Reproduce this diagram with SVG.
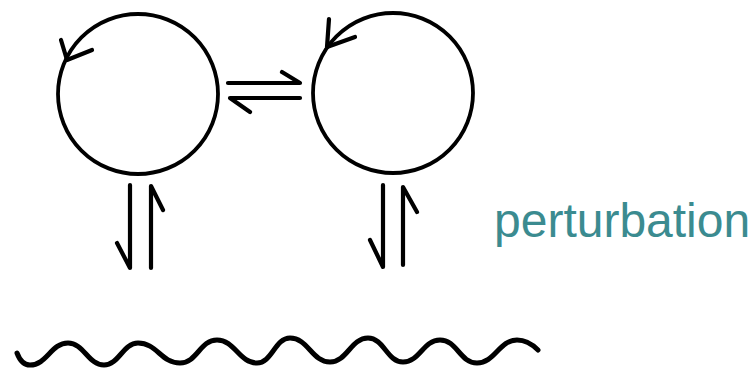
<svg xmlns="http://www.w3.org/2000/svg" width="753" height="371" viewBox="0 0 753 371">
  <style>
    .ink { fill: none; stroke: #000; stroke-linecap: round; stroke-linejoin: round; }
    .circ { stroke-width: 3.8; }
    .arr { stroke-width: 4.2; }
    .wave { stroke-width: 5; }
    .lbl { font-family: "Liberation Sans", Arial, sans-serif; font-size: 48px; fill: #3b8b90; }
  </style>
  <rect width="753" height="371" fill="#fff"/>
  <g id="state-left">
    <circle class="ink circ" cx="138" cy="94" r="80"/>
    <path class="ink arr" d="M61,40 L67,60 L92,50"/>
  </g>
  <g id="state-right">
    <circle class="ink circ" cx="393" cy="93" r="80"/>
    <path class="ink arr" d="M329,19 L327,47 L355,37"/>
  </g>
  <g id="bath">
    <path class="ink wave" d="M17,353 C20,361 24,365 30,365 C47,365 51,343 68,343 C84,343 88,365 104,365 C119,365 123,343 138,343 C157,343 161,363 180,363 C197,363 200,340 217,340 C235,340 239,363 257,363 C272,363 275,338 290,338 C308,338 312,362 330,362 C347,362 351,338 368,338 C384,338 387,362 403,362 C420,362 423,340 440,340 C457,340 460,363 477,363 C495,363 499,340 517,340 C527,340 533,345 538,350"/>
  </g>
  <g id="connectors">
    <path class="ink arr" d="M228,83 L300,83 L282,72"/>
    <path class="ink arr" d="M300,98 L230,98 L250,112"/>
    <path class="ink arr" d="M130,185 L130,268 L117,243"/>
    <path class="ink arr" d="M151,268 L151,186 L163,210"/>
    <path class="ink arr" d="M383,185 L383,267 L370,240"/>
    <path class="ink arr" d="M403,265 L403,187 L417,212"/>
  </g>
  <g id="label">
    <text class="lbl" x="494" y="237">perturbation</text>
  </g>
</svg>
